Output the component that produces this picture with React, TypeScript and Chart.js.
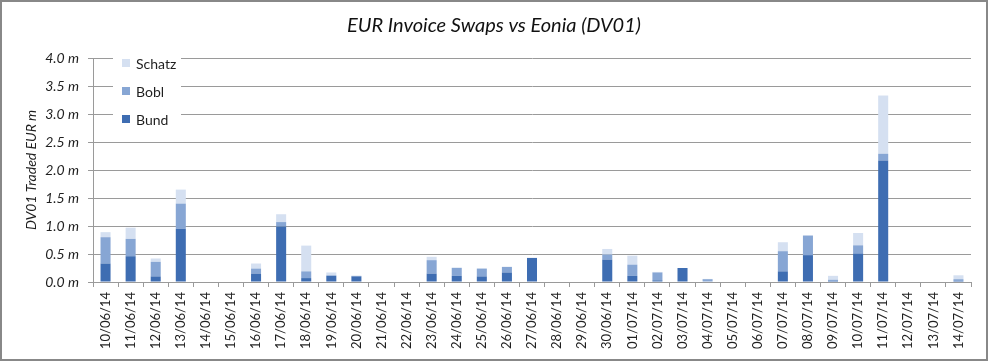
import React, { useEffect, useRef } from "react";
import { Chart, registerables } from "chart.js";

Chart.register(...registerables);

const TITLE = "EUR Invoice Swaps vs Eonia (DV01)";
const Y_TITLE = "DV01 Traded EUR m";

const categories = [
  "10/06/14", "11/06/14", "12/06/14", "13/06/14", "14/06/14", "15/06/14", "16/06/14",
  "17/06/14", "18/06/14", "19/06/14", "20/06/14", "21/06/14", "22/06/14", "23/06/14",
  "24/06/14", "25/06/14", "26/06/14", "27/06/14", "28/06/14", "29/06/14", "30/06/14",
  "01/07/14", "02/07/14", "03/07/14", "04/07/14", "05/07/14", "06/07/14", "07/07/14",
  "08/07/14", "09/07/14", "10/07/14", "11/07/14", "12/07/14", "13/07/14", "14/07/14",
];

const bund = [
  0.33, 0.46, 0.10, 0.95, 0, 0, 0.15,
  0.99, 0.07, 0.11, 0.10, 0, 0, 0.15,
  0.11, 0.10, 0.17, 0.43, 0, 0, 0.40,
  0.11, 0.03, 0.25, 0.01, 0, 0, 0.19,
  0.48, 0.02, 0.51, 2.17, 0, 0, 0.02,
];

const bobl = [
  0.47, 0.31, 0.26, 0.45, 0, 0, 0.09,
  0.08, 0.12, 0.01, 0.01, 0, 0, 0.24,
  0.14, 0.14, 0.10, 0, 0, 0, 0.09,
  0.20, 0.14, 0, 0.04, 0, 0, 0.36,
  0.35, 0.02, 0.145, 0.12, 0, 0, 0.03,
];

const schatz = [
  0.09, 0.20, 0.06, 0.25, 0, 0, 0.09,
  0.14, 0.46, 0.05, 0, 0, 0, 0.06,
  0.01, 0, 0, 0, 0, 0, 0.10,
  0.16, 0.01, 0, 0.005, 0, 0, 0.16,
  0, 0.07, 0.22, 1.04, 0, 0, 0.07,
];

const Y_MIN = 0;
const Y_MAX = 4;
const Y_STEP = 0.5;

const COLORS = { bund: "#3E6DB2", bobl: "#87A6D4", schatz: "#D5E0F1" };
const TEXT = "#1f1f1f";
const GRID = "#9a9a9a";

const titlePlugin = {
  id: "customTitle",
  afterDraw(chart: any) {
    const ctx = chart.ctx;
    ctx.save();
    ctx.font = "italic 20px Lato";
    ctx.fillStyle = "#111";
    ctx.textAlign = "center";
    ctx.textBaseline = "middle";
    ctx.fillText(TITLE, chart.width / 2, 24);
    ctx.restore();
  },
};

const legendPlugin = {
  id: "customLegend",
  afterDatasetsDraw(chart: any) {
    const ctx = chart.ctx;
    const area = chart.chartArea;
    const x0 = area.left + 20;
    ctx.save();
    ctx.fillStyle = "#fff";
    ctx.fillRect(x0, area.top - 8, 68, 76);
    const ds = chart.data.datasets.slice().reverse();
    ctx.font = "14px Lato";
    ctx.textBaseline = "middle";
    ctx.textAlign = "left";
    ds.forEach((d: any, i: number) => {
      const cy = area.top + 5 + i * 28;
      ctx.fillStyle = d.backgroundColor;
      ctx.fillRect(x0 + 9, cy - 4, 8, 8);
      ctx.fillStyle = TEXT;
      ctx.fillText(d.label, x0 + 23, cy + 1);
    });
    ctx.restore();
  },
};

export default function App() {
  const ref = useRef<HTMLCanvasElement | null>(null);

  useEffect(() => {
    if (!ref.current) return;
    Chart.defaults.font.family = "Lato";
    const chart = new Chart(ref.current, {
      type: "bar",
      data: {
        labels: categories,
        datasets: [
          { label: "Bund", data: bund, backgroundColor: COLORS.bund, borderWidth: 0 },
          { label: "Bobl", data: bobl, backgroundColor: COLORS.bobl, borderWidth: 0 },
          { label: "Schatz", data: schatz, backgroundColor: COLORS.schatz, borderWidth: 0 },
        ],
      },
      options: {
        responsive: false,
        animation: false,
        devicePixelRatio: 1,
        layout: { padding: { top: 56, right: 15, left: 0, bottom: 0 } },
        datasets: { bar: { categoryPercentage: 1, barPercentage: 0.4 } },
        plugins: {
          legend: { display: false },
          title: { display: false },
          tooltip: { enabled: false },
        },
        scales: {
          x: {
            stacked: true,
            afterFit: (s: any) => { s.height = 77; },
            grid: {
              display: true,
              offset: true,
              drawOnChartArea: false,
              drawTicks: true,
              tickLength: 5,
              color: GRID,
            },
            border: { display: true, color: GRID },
            ticks: {
              autoSkip: false,
              minRotation: 90,
              maxRotation: 90,
              padding: 5,
              color: TEXT,
              font: { size: 13, family: "Lato" },
            },
          },
          y: {
            stacked: true,
            min: Y_MIN,
            max: Y_MAX,
            afterFit: (s: any) => { s.width = 91; },
            grid: { color: GRID, tickLength: 5, drawTicks: true },
            border: { display: true, color: GRID },
            ticks: {
              stepSize: Y_STEP,
              padding: 9,
              color: TEXT,
              font: { size: 14, style: "italic", family: "Lato" },
              callback: (v: any) => Number(v).toFixed(1) + " m",
            },
            title: {
              display: true,
              text: Y_TITLE,
              color: TEXT,
              font: { size: 14, style: "italic", family: "Lato" },
              padding: { top: 21, bottom: 0 },
            },
          },
        },
      },
      plugins: [titlePlugin, legendPlugin],
    });
    return () => chart.destroy();
  }, []);

  return (
    <div
      style={{
        position: "fixed",
        left: 0,
        top: 0,
        width: 988,
        height: 361,
        border: "2px solid #888",
        boxSizing: "border-box",
        background: "#fff",
      }}
    >
      <canvas ref={ref} width={984} height={357} style={{ display: "block", width: 984, height: 357 }} />
    </div>
  );
}
